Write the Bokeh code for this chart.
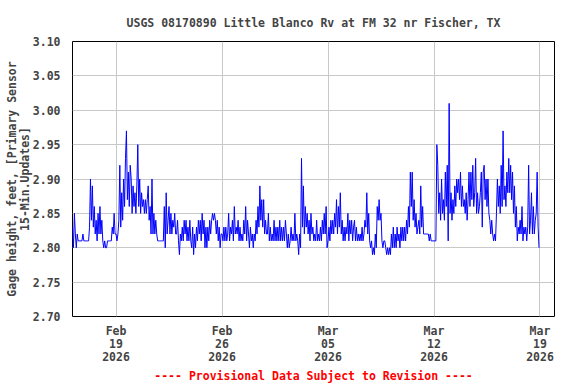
from datetime import datetime, timedelta
from bokeh.plotting import figure
from bokeh.models import Range1d, FixedTicker, DatetimeTickFormatter, PrintfTickFormatter, Title
from bokeh.embed import file_html
from bokeh.resources import INLINE

# ---- data: gage height (ft), readings every 1.5 h starting 2026-02-16 03:00 ----
gage_feb16_22 = [
    2.83, 2.80, 2.85, 2.82, 2.80, 2.82, 2.81, 2.81, 2.81, 2.81, 2.81, 2.82, 2.81, 2.81,
    2.81, 2.81, 2.81, 2.81, 2.83, 2.90, 2.84, 2.89, 2.83, 2.86, 2.82, 2.84, 2.81, 2.85, 2.82, 2.86,
    2.82, 2.84, 2.81, 2.80, 2.81, 2.80, 2.80, 2.81, 2.81, 2.81, 2.81, 2.81, 2.83, 2.82, 2.85, 2.82,
    2.82, 2.81, 2.82, 2.84, 2.92, 2.83, 2.88, 2.84, 2.90, 2.86, 2.93, 2.97, 2.87, 2.91, 2.86, 2.92,
    2.90, 2.85, 2.89, 2.86, 2.88, 2.85, 2.89, 2.95, 2.86, 2.90, 2.85, 2.88, 2.86, 2.87, 2.85, 2.87,
    2.85, 2.87, 2.89, 2.84, 2.86, 2.82, 2.90, 2.82, 2.85, 2.82, 2.84, 2.82, 2.81, 2.81, 2.81, 2.81,
    2.81, 2.81, 2.81, 2.86, 2.80, 2.88, 2.82, 2.84, 2.86, 2.82, 2.85, 2.82, 2.84, 2.83, 2.85, 2.82,
]
gage_feb23_mar01 = [
    2.82, 2.84, 2.81, 2.79, 2.82, 2.81, 2.83, 2.81, 2.84, 2.82, 2.84, 2.81, 2.83, 2.81, 2.84, 2.81,
    2.80, 2.83, 2.79, 2.82, 2.80, 2.83, 2.81, 2.84, 2.82, 2.84, 2.81, 2.85, 2.82, 2.84, 2.80, 2.83,
    2.80, 2.83, 2.81, 2.84, 2.82, 2.84, 2.85, 2.84, 2.85, 2.84, 2.82, 2.84, 2.81, 2.83, 2.80, 2.82,
    2.82, 2.81, 2.83, 2.81, 2.83, 2.81, 2.82, 2.85, 2.81, 2.83, 2.82, 2.84, 2.81, 2.86, 2.82, 2.83,
    2.82, 2.84, 2.81, 2.83, 2.81, 2.82, 2.81, 2.84, 2.82, 2.86, 2.81, 2.84, 2.82, 2.80, 2.83, 2.81,
    2.82, 2.80, 2.82, 2.81, 2.84, 2.82, 2.86, 2.83, 2.89, 2.84, 2.87, 2.83, 2.87, 2.82, 2.84, 2.82,
    2.82, 2.85, 2.81, 2.83, 2.81, 2.82, 2.81, 2.84, 2.81, 2.83, 2.81, 2.83, 2.81, 2.84, 2.81, 2.83,
]
gage_mar02_08 = [
    2.81, 2.83, 2.81, 2.84, 2.82, 2.80, 2.82, 2.80, 2.81, 2.83, 2.81, 2.82, 2.81, 2.85, 2.81, 2.82,
    2.81, 2.79, 2.82, 2.80, 2.93, 2.83, 2.89, 2.82, 2.86, 2.83, 2.85, 2.82, 2.84, 2.81, 2.85, 2.82,
    2.83, 2.81, 2.82, 2.81, 2.84, 2.81, 2.82, 2.81, 2.83, 2.81, 2.84, 2.82, 2.85, 2.82, 2.86, 2.80,
    2.81, 2.83, 2.81, 2.84, 2.82, 2.84, 2.82, 2.85, 2.83, 2.87, 2.82, 2.86, 2.83, 2.88, 2.82, 2.84,
    2.81, 2.83, 2.81, 2.83, 2.82, 2.85, 2.81, 2.84, 2.82, 2.84, 2.81, 2.83, 2.84, 2.81, 2.83, 2.81,
    2.82, 2.81, 2.82, 2.81, 2.83, 2.81, 2.82, 2.84, 2.83, 2.88, 2.82, 2.85, 2.81, 2.80, 2.81, 2.79,
    2.80, 2.79, 2.82, 2.80, 2.86, 2.84, 2.87, 2.84, 2.85, 2.81, 2.80, 2.81, 2.81, 2.80, 2.79, 2.80,
]
gage_mar09_15 = [
    2.79, 2.80, 2.79, 2.82, 2.80, 2.83, 2.80, 2.82, 2.80, 2.83, 2.81, 2.82, 2.80, 2.83, 2.81, 2.83,
    2.81, 2.83, 2.81, 2.84, 2.82, 2.86, 2.83, 2.91, 2.86, 2.91, 2.84, 2.87, 2.83, 2.85, 2.82, 2.83,
    2.84, 2.82, 2.89, 2.83, 2.86, 2.82, 2.82, 2.82, 2.82, 2.82, 2.82, 2.81, 2.82, 2.81, 2.81, 2.81,
    2.81, 2.81, 2.81, 2.95, 2.92, 2.85, 2.88, 2.84, 2.90, 2.85, 2.87, 2.84, 2.91, 2.86, 2.92, 2.81,
    3.01, 2.85, 2.88, 2.84, 2.87, 2.85, 2.89, 2.86, 2.90, 2.88, 2.90, 2.87, 2.91, 2.86, 2.89, 2.86,
    2.87, 2.85, 2.88, 2.84, 2.87, 2.91, 2.86, 2.91, 2.87, 2.92, 2.86, 2.88, 2.93, 2.85, 2.88, 2.85,
    2.86, 2.88, 2.91, 2.83, 2.91, 2.92, 2.87, 2.90, 2.86, 2.90, 2.85, 2.84, 2.82, 2.84, 2.82, 2.81,
]
gage_mar16_18 = [
    2.82, 2.81, 2.85, 2.90, 2.86, 2.89, 2.85, 2.92, 2.86, 2.97, 2.87, 2.89, 2.86, 2.91, 2.88, 2.93,
    2.88, 2.92, 2.87, 2.91, 2.85, 2.89, 2.83, 2.86, 2.81, 2.83, 2.82, 2.84, 2.82, 2.86, 2.81, 2.83,
    2.82, 2.83, 2.81, 2.83, 2.92, 2.82, 2.84, 2.88, 2.82, 2.86, 2.82, 2.84, 2.85, 2.91, 2.83, 2.80,
]
series_start = datetime(2026, 2, 16, 3, 0)
step_minutes = 90

x_start = datetime(2026, 2, 16, 3, 0)
x_end = datetime(2026, 3, 19, 23, 0)
x_tick_dates = [datetime(2026, 2, 19), datetime(2026, 2, 26), datetime(2026, 3, 5),
                datetime(2026, 3, 12), datetime(2026, 3, 19)]
y_ticks = [2.70, 2.75, 2.80, 2.85, 2.90, 2.95, 3.00, 3.05, 3.10]

title_text = "USGS 08170890 Little Blanco Rv at FM 32 nr Fischer, TX"
y_label = "Gage height, feet, [Primary Sensor\n15-Min.Updates]"
footer_text = "---- Provisional Data Subject to Revision ----"

values = gage_feb16_22 + gage_feb23_mar01 + gage_mar02_08 + gage_mar09_15 + gage_mar16_18
times = [series_start + timedelta(minutes=step_minutes * i) for i in range(len(values))]

FONT = "DejaVu Sans Mono"
FS = "11.5px"
EPOCH = datetime(1970, 1, 1)

p = figure(width=576, height=384, x_axis_type="datetime",
           output_backend="svg", toolbar_location=None,
           x_range=Range1d(x_start, x_end),
           y_range=Range1d(y_ticks[0], y_ticks[-1]),
           min_border_left=72, min_border_right=22, min_border_top=41, min_border_bottom=68)
p.background_fill_color = "white"
p.border_fill_color = "white"
p.outline_line_color = "black"
p.outline_line_width = 1

p.line(times, values, line_color="#0000ff", line_width=1)

# title
p.title.text = title_text
p.title.align = "center"
p.title.text_font = FONT
p.title.text_font_size = FS
p.title.text_font_style = "bold"
p.title.text_line_height = 0.45
p.title.standoff = 24

# x axis
xa = p.xaxis[0]
xa.ticker = FixedTicker(ticks=[(d - EPOCH).total_seconds() * 1000 for d in x_tick_dates],
                        minor_ticks=[])
fmt = "%b\n%d\n%Y"
xa.formatter = DatetimeTickFormatter(days=fmt, months=fmt, years=fmt, hours=fmt,
                                     minutes=fmt, seconds=fmt, milliseconds=fmt,
                                     microseconds=fmt, minsec=fmt, hourmin=fmt)
xa.major_label_text_font = FONT
xa.major_label_text_font_size = FS
xa.major_label_text_font_style = "bold"
xa.major_label_text_line_height = 0.95
xa.major_label_standoff = 7
xa.major_tick_out = 0
xa.major_tick_in = 0
xa.minor_tick_out = 0
xa.minor_tick_in = 0
xa.axis_line_color = None

# y axis
ya = p.yaxis[0]
ya.ticker = FixedTicker(ticks=y_ticks, minor_ticks=[])
ya.formatter = PrintfTickFormatter(format="%.2f")
ya.major_label_text_font = FONT
ya.major_label_text_font_size = FS
ya.major_label_text_font_style = "bold"
ya.major_label_standoff = 12
ya.major_tick_out = 0
ya.major_tick_in = 0
ya.minor_tick_out = 0
ya.minor_tick_in = 0
ya.axis_line_color = None
ya.axis_label = y_label
ya.axis_label_text_font = FONT
ya.axis_label_text_font_size = FS
ya.axis_label_text_font_style = "bold"
ya.axis_label_text_line_height = 0.88
ya.axis_label_standoff = -2

# grid
for g in (p.xgrid[0], p.ygrid[0]):
    g.grid_line_color = "#c8c8c8"
    g.grid_line_width = 1

# footer
p.add_layout(Title(text=footer_text, align="center", text_color="#ff0000",
                   text_font=FONT, text_font_size=FS, text_font_style="bold",
                   standoff=-1), "below")

open("out.html", "w").write(file_html(p, INLINE))
